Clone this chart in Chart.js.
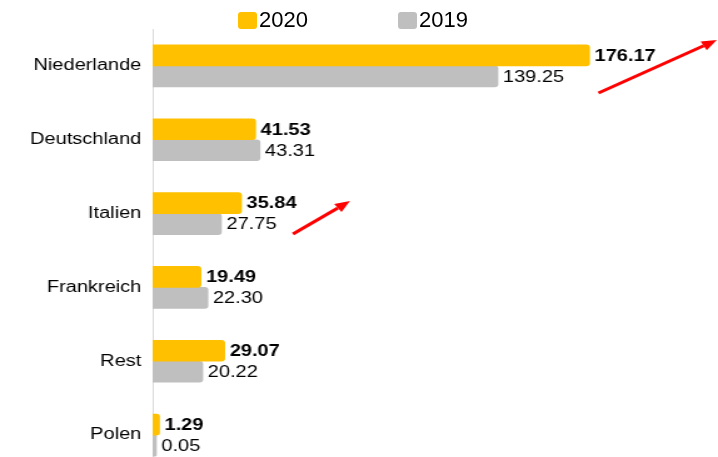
<!DOCTYPE html>
<html>
<head>
<meta charset="utf-8">
<script src="https://cdn.jsdelivr.net/npm/chart.js@4"></script>
<style>
  html, body { margin: 0; padding: 0; background: #fff; overflow: hidden; }
  #wrap { position: relative; width: 718px; height: 457px; overflow: hidden; }
  #myChart { position: absolute; left: 0; top: 0; }
  #legend {
    position: absolute; left: 238px; top: 7px; display: flex;
    font-family: "Liberation Sans", Arial, sans-serif; font-size: 22px; color: #000;
  }
  .item { display: flex; align-items: center; margin-right: 90px; }
  .box { width: 19px; height: 17px; border-radius: 3px; margin-right: 2px; }
</style>
</head>
<body>
<div id="wrap">
  <!-- drawn narrower and stretched wide, like the source picture -->
  <canvas id="myChart" width="574" height="473" style="width:718px;height:473px"></canvas>
  <div id="legend"></div>
</div>
<script>
const categories = ["Niederlande", "Deutschland", "Italien", "Frankreich", "Rest", "Polen"];
const values2020 = [176.17, 41.53, 35.84, 19.49, 29.07, 1.29];
const values2019 = [139.25, 43.31, 27.75, 22.30, 20.22, 0.05];
const seriesLabels = ["2020", "2019"];

const FONT = '"Liberation Sans", Arial, sans-serif';

// red arrows, in axis units (x value, category position)
const arrows = [
  { from: [179.8, 0.366], to: [227.5, -0.352] },
  { from: [56.6, 2.276], to: [79.6, 1.829] },
];

const data = {
  labels: categories,
  datasets: [
    {
      label: seriesLabels[0],
      data: values2020,
      backgroundColor: "#FFC000",
      barThickness: 21,
      borderRadius: 3,
      minBarLength: 5.5,
    },
    {
      label: seriesLabels[1],
      data: values2019,
      backgroundColor: "#BFBFBF",
      barThickness: 21,
      borderRadius: 3,
      minBarLength: 3,
    },
  ],
};

// value text at the end of each bar
const valueLabels = {
  id: "valueLabels",
  afterDatasetsDraw(chart) {
    const ctx = chart.ctx;
    chart.data.datasets.forEach((ds, i) => {
      chart.getDatasetMeta(i).data.forEach((bar, j) => {
        ctx.save();
        ctx.font = (i === 0 ? "bold " : "") + "16px " + FONT;
        ctx.fillStyle = "#000";
        ctx.textBaseline = "middle";
        ctx.fillText(ds.data[j].toFixed(2), bar.x + 4, bar.y + 1);
        ctx.restore();
      });
    });
  },
};

const arrowPlugin = {
  id: "arrows",
  afterDraw(chart) {
    const ctx = chart.ctx;
    const sx = chart.scales.x, sy = chart.scales.y;
    arrows.forEach(a => {
      const x1 = sx.getPixelForValue(a.from[0]), y1 = sy.getPixelForValue(a.from[1]);
      const x2 = sx.getPixelForValue(a.to[0]), y2 = sy.getPixelForValue(a.to[1]);
      const ang = Math.atan2(y2 - y1, x2 - x1);
      const len = 12, half = 5;
      const bx = x2 - len * Math.cos(ang), by = y2 - len * Math.sin(ang);
      ctx.save();
      ctx.strokeStyle = "#FF0000";
      ctx.fillStyle = "#FF0000";
      ctx.lineWidth = 3;
      ctx.beginPath();
      ctx.moveTo(x1, y1);
      ctx.lineTo(bx, by);
      ctx.stroke();
      ctx.beginPath();
      ctx.moveTo(x2, y2);
      ctx.lineTo(bx + half * Math.sin(ang), by - half * Math.cos(ang));
      ctx.lineTo(bx - half * Math.sin(ang), by + half * Math.cos(ang));
      ctx.closePath();
      ctx.fill();
      ctx.restore();
    });
  },
};

const config = {
  type: "bar",
  data: data,
  options: {
    indexAxis: "y",
    responsive: false,
    animation: false,
    layout: { autoPadding: false, padding: { top: 29, bottom: 1, left: 0, right: 0 } },
    plugins: {
      legend: { display: false },
      tooltip: { enabled: false },
    },
    scales: {
      x: { display: false, min: 0, max: 228 },
      y: {
        grid: { display: false, drawTicks: false },
        border: { display: true, color: "#D9D9D9", width: 1 },
        ticks: { color: "#000", font: { family: FONT, size: 16 }, padding: 9 },
        afterFit(scale) {
          scale.width = 122;
          scale.paddingTop = 0;
          scale.paddingBottom = 0;
        },
      },
    },
  },
  plugins: [valueLabels, arrowPlugin],
};

window.onload = function () {
  const ctx = document.getElementById("myChart");
  const chart = new Chart(ctx, config);

  // html legend built from the datasets
  const legend = document.getElementById("legend");
  chart.data.datasets.forEach(ds => {
    const item = document.createElement("div");
    item.className = "item";
    const box = document.createElement("span");
    box.className = "box";
    box.style.background = ds.backgroundColor;
    const txt = document.createElement("span");
    txt.textContent = ds.label;
    item.appendChild(box);
    item.appendChild(txt);
    legend.appendChild(item);
  });
};
</script>
</body>
</html>
